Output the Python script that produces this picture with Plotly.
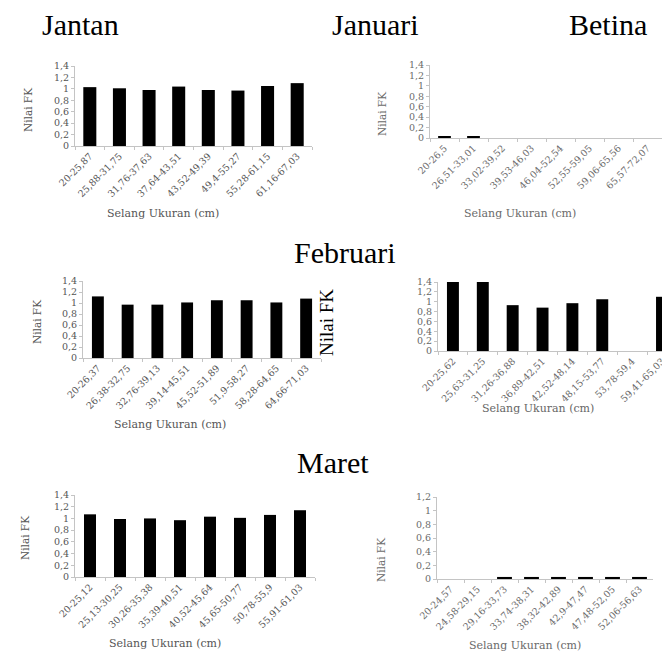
import plotly.graph_objects as go

W, H = 662, 656

# Size classes (cm) and condition factor (FK) per month and sex
kelas_jan_jantan = ["20-25,87", "25,88-31,75", "31,76-37,63", "37,64-43,51",
                    "43,52-49,39", "49,4-55,27", "55,28-61,15", "61,16-67,03"]
fk_jan_jantan = [1.03, 1.01, 0.98, 1.04, 0.98, 0.97, 1.05, 1.10]

kelas_jan_betina = ["20-26,5", "26,51-33,01", "33,02-39,52", "39,53-46,03",
                    "46,04-52,54", "52,55-59,05", "59,06-65,56", "65,57-72,07"]
fk_jan_betina = [0.03, 0.03, 0, 0, 0, 0, 0, 0]

kelas_feb_jantan = ["20-26,37", "26,38-32,75", "32,76-39,13", "39,14-45,51",
                    "45,52-51,89", "51,9-58,27", "58,28-64,65", "64,66-71,03"]
fk_feb_jantan = [1.12, 0.97, 0.97, 1.01, 1.05, 1.05, 1.01, 1.08]

kelas_feb_betina = ["20-25,62", "25,63-31,25", "31,26-36,88", "36,89-42,51",
                    "42,52-48,14", "48,15-53,77", "53,78-59,4", "59,41-65,03"]
fk_feb_betina = [1.40, 1.40, 0.93, 0.88, 0.97, 1.05, 0, 1.10]

kelas_mar_jantan = ["20-25,12", "25,13-30,25", "30,26-35,38", "35,39-40,51",
                    "40,52-45,64", "45,65-50,77", "50,78-55,9", "55,91-61,03"]
fk_mar_jantan = [1.07, 0.99, 1.00, 0.97, 1.03, 1.01, 1.06, 1.14]

kelas_mar_betina = ["20-24,57", "24,58-29,15", "29,16-33,73", "33,74-38,31",
                    "38,32-42,89", "42,9-47,47", "47,48-52,05", "52,06-56,63"]
fk_mar_betina = [0, 0, 0.03, 0.03, 0.03, 0.03, 0.03, 0.03]

ytick_vals = [0, 0.2, 0.4, 0.6, 0.8, 1.0, 1.2, 1.4]
ytick_text = ["0", "0,2", "0,4", "0,6", "0,8", "1", "1,2", "1,4"]

judul_kolom = ["Jantan", "Januari", "Betina"]
judul_bulan = ["Februari", "Maret"]
judul_x = "Selang Ukuran (cm)"
judul_y = "Nilai FK"


def px_x(x):
    return x / W


def px_y(y):
    return 1 - y / H


# panel layout in pixels: plot box (x0, x1, ytop, ybottom), x range, y max,
# bar width, text colour, y-title position, x-title position
panels = [
    dict(kelas=kelas_jan_jantan, fk=fk_jan_jantan, box=(75, 312, 66, 146),
         xr=[-0.5, 7.5], ymax=1.4, bw=0.44, col="#555555",
         ytitle=(28, 110), xtitle=(163, 213)),
    dict(kelas=kelas_jan_betina, fk=fk_jan_betina, box=(430, 662, 65, 138),
         xr=[-0.5, 7.5], ymax=1.4, bw=0.44, col="#6a6a6a",
         ytitle=(382, 114), xtitle=(520, 213)),
    dict(kelas=kelas_feb_jantan, fk=fk_feb_jantan, box=(83, 321, 281, 358),
         xr=[-0.5, 7.5], ymax=1.4, bw=0.40, col="#555555",
         ytitle=(37, 322), xtitle=(170, 424)),
    dict(kelas=kelas_feb_betina, fk=fk_feb_betina, box=(438, 662, 282, 351),
         xr=[-0.5, 7.0], ymax=1.4, bw=0.40, col="#666666",
         ytitle=None, xtitle=(538, 408)),
    dict(kelas=kelas_mar_jantan, fk=fk_mar_jantan, box=(75, 315, 495, 577),
         xr=[-0.5, 7.5], ymax=1.4, bw=0.40, col="#555555",
         ytitle=(25, 538), xtitle=(165, 643)),
    dict(kelas=kelas_mar_betina, fk=fk_mar_betina, box=(437, 653, 497, 579),
         xr=[-0.5, 7.5], ymax=1.2, bw=0.55, col="#6a6a6a",
         ytitle=(381, 560), xtitle=(525, 645)),
]

fig = go.Figure()
annotations = []
line_col = "#c4c4c4"

for i, p in enumerate(panels, start=1):
    sfx = "" if i == 1 else str(i)
    fig.add_trace(go.Bar(
        x=p["kelas"], y=p["fk"], xaxis="x" + sfx, yaxis="y" + sfx,
        marker=dict(color="black", line=dict(width=0)), width=p["bw"],
        showlegend=False,
    ))
    x0, x1, yt, yb = p["box"]
    tickfont = dict(family="DejaVu Serif", size=9.5, color=p["col"])
    fig.update_layout(**{
        "xaxis" + sfx: dict(
            domain=[px_x(x0), px_x(x1)], anchor="y" + sfx, type="category",
            range=p["xr"], showline=True, linecolor=line_col, linewidth=1,
            ticks="outside", ticklen=3, tickcolor=line_col,
            tickson="boundaries", tickangle=-45, showgrid=False,
            zeroline=False, tickfont=tickfont, fixedrange=True,
        ),
        "yaxis" + sfx: dict(
            domain=[px_y(yb), px_y(yt)], anchor="x" + sfx,
            range=[0, p["ymax"]],
            tickvals=[v for v in ytick_vals if v <= p["ymax"] + 1e-9],
            ticktext=[t for v, t in zip(ytick_vals, ytick_text)
                      if v <= p["ymax"] + 1e-9],
            showline=True, linecolor=line_col, linewidth=1,
            ticks="outside", ticklen=3, tickcolor=line_col,
            showgrid=False, zeroline=False, tickfont=tickfont,
            fixedrange=True,
        ),
    })
    if p["ytitle"]:
        annotations.append(dict(
            x=px_x(p["ytitle"][0]), y=px_y(p["ytitle"][1]), xref="paper",
            yref="paper", text=judul_y, showarrow=False, textangle=-90,
            font=dict(family="DejaVu Serif", size=10.5, color=p["col"]),
            xanchor="center", yanchor="middle",
        ))
    annotations.append(dict(
        x=px_x(p["xtitle"][0]), y=px_y(p["xtitle"][1]), xref="paper",
        yref="paper", text=judul_x, showarrow=False,
        font=dict(family="DejaVu Serif", size=11, color=p["col"]),
        xanchor="center", yanchor="middle",
    ))

# column and month headings
head_font = dict(family="Liberation Serif", size=30, color="black")
for txt, cx in zip(judul_kolom, [80, 375, 608]):
    annotations.append(dict(x=px_x(cx), y=px_y(25), xref="paper", yref="paper",
                            text=txt, showarrow=False, font=head_font,
                            xanchor="center", yanchor="middle"))
for txt, (cx, cy) in zip(judul_bulan, [(345, 252), (333, 462)]):
    annotations.append(dict(x=px_x(cx), y=px_y(cy), xref="paper", yref="paper",
                            text=txt, showarrow=False, font=head_font,
                            xanchor="center", yanchor="middle"))

# y-axis label for the February female panel
annotations.append(dict(
    x=px_x(326), y=px_y(323), xref="paper", yref="paper", text=judul_y,
    showarrow=False, textangle=-90,
    font=dict(family="Liberation Serif", size=19, color="black"),
    xanchor="center", yanchor="middle",
))

fig.update_layout(
    width=W, height=H, margin=dict(l=0, r=0, t=0, b=0),
    template="none", paper_bgcolor="white", plot_bgcolor="white",
    annotations=annotations, showlegend=False,
)

fig.write_html("out.html")
